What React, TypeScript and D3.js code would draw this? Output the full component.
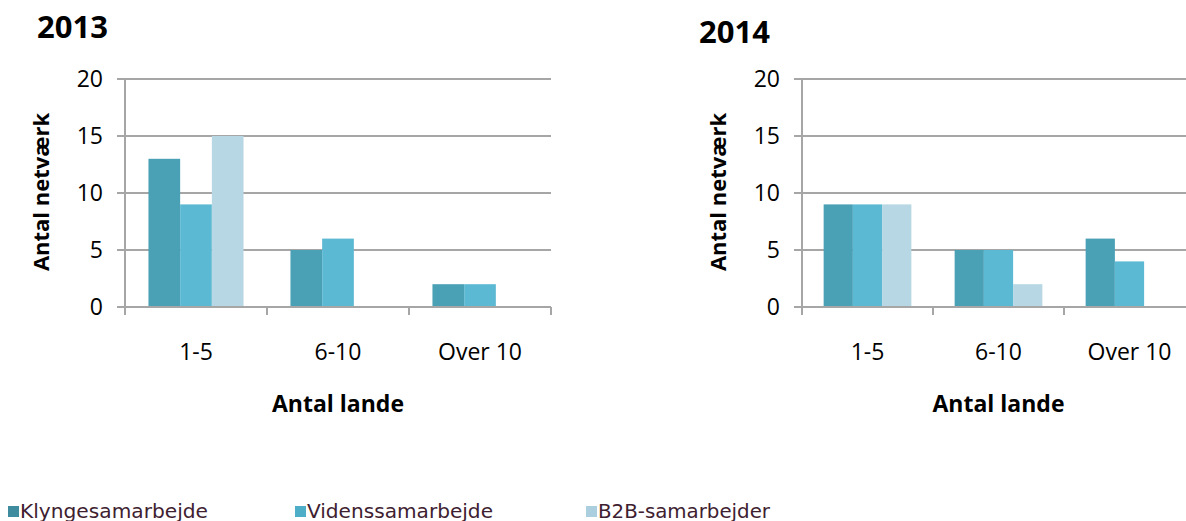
import React from "react";
import * as d3 from "d3";

// kategorier og serier
const categories = ["1-5", "6-10", "Over 10"];
const seriesNames = ["Klyngesamarbejde", "Videnssamarbejde", "B2B-samarbejder"];
const values2013 = [
  [13, 5, 2], // Klyngesamarbejde
  [9, 6, 2], // Videnssamarbejde
  [15, 0, 0], // B2B-samarbejder
];
const values2014 = [
  [9, 5, 6],
  [9, 5, 4],
  [9, 2, 0],
];
const yTicks = [0, 5, 10, 15, 20];

const barColors = ["#4aa0b5", "#5cb9d3", "#b7d7e4"];
const legendColors = ["#3f8c9f", "#4eaec8", "#abcfde"];
const gridColor = "#a6a6a6";
const font = "'Open Sans', sans-serif";

type PanelProps = {
  title: string;
  values: number[][];
  left: number;
  right: number;
  titleX: number;
  titleY: number;
  yLabelX: number;
};

function Panel({ title, values, left, right, titleX, titleY, yLabelX }: PanelProps) {
  const top = 79;
  const bottom = 307;
  const y = d3.scaleLinear().domain([0, 20]).range([bottom, top]);
  const x = d3.scaleBand<string>().domain(categories).range([left, right]).padding(0);
  const xs = d3
    .scaleBand<number>()
    .domain(d3.range(seriesNames.length))
    .range([0, x.bandwidth()])
    .paddingInner(0)
    .paddingOuter(0.74);

  return (
    <g>
      <text x={titleX} y={titleY} fontFamily={font} fontWeight="bold" fontSize={31} fill="#000">
        {title}
      </text>
      {/* gitterlinjer */}
      {yTicks.map((t) => (
        <line key={t} x1={left - 8} x2={right} y1={y(t)} y2={y(t)} stroke={gridColor} strokeWidth={2} />
      ))}
      {yTicks.map((t) => (
        <text
          key={"l" + t}
          x={left - 22}
          y={y(t)}
          dy="0.36em"
          textAnchor="end"
          fontFamily={font}
          fontSize={23}
          fill="#000"
        >
          {t}
        </text>
      ))}
      {/* søjler */}
      {values.map((serie, si) =>
        serie.map((v, ci) =>
          v > 0 ? (
            <rect
              key={si + "-" + ci}
              x={(x(categories[ci]) ?? 0) + (xs(si) ?? 0)}
              y={y(v)}
              width={xs.bandwidth()}
              height={y(0) - y(v)}
              fill={barColors[si]}
            />
          ) : null
        )
      )}
      {/* akser */}
      <line x1={left} x2={left} y1={top} y2={bottom + 8} stroke={gridColor} strokeWidth={2} />
      <line x1={left - 8} x2={right} y1={bottom} y2={bottom} stroke={gridColor} strokeWidth={2} />
      {categories.map((c) => (
        <line
          key={"t" + c}
          x1={(x(c) ?? 0) + x.bandwidth()}
          x2={(x(c) ?? 0) + x.bandwidth()}
          y1={bottom}
          y2={bottom + 8}
          stroke={gridColor}
          strokeWidth={2}
        />
      ))}
      {categories.map((c) => (
        <text
          key={"c" + c}
          x={(x(c) ?? 0) + x.bandwidth() / 2}
          y={360}
          textAnchor="middle"
          fontFamily={font}
          fontSize={23}
          fill="#000"
        >
          {c}
        </text>
      ))}
      <text
        x={(left + right) / 2}
        y={412}
        textAnchor="middle"
        fontFamily={font}
        fontWeight="bold"
        fontSize={23}
        fill="#000"
      >
        Antal lande
      </text>
      <text
        transform={`translate(${yLabelX},192) rotate(-90)`}
        textAnchor="middle"
        fontFamily={font}
        fontWeight="bold"
        fontSize={22}
        fill="#000"
      >
        Antal netværk
      </text>
    </g>
  );
}

const legendX = [8, 295, 586];
const legendWidths = [188, 186, 172];

export default function App() {
  return (
    <svg
      width={1186}
      height={521}
      viewBox="0 0 1186 521"
      style={{ position: "absolute", left: 0, top: 0, background: "#fff" }}
    >
      <Panel title="2013" values={values2013} left={125} right={551} titleX={37} titleY={38} yLabelX={49} />
      <Panel title="2014" values={values2014} left={802} right={1195} titleX={699} titleY={43} yLabelX={726} />
      {seriesNames.map((s, i) => (
        <g key={s}>
          <rect x={legendX[i]} y={506} width={11} height={11} fill={legendColors[i]} />
          <text
            x={legendX[i] + 12}
            y={518}
            fontFamily="'DejaVu Sans Condensed', 'DejaVu Sans', sans-serif"
            fontSize={19}
            fill="#3e2130"
            textLength={legendWidths[i]}
            lengthAdjust="spacingAndGlyphs"
          >
            {s}
          </text>
        </g>
      ))}
    </svg>
  );
}
